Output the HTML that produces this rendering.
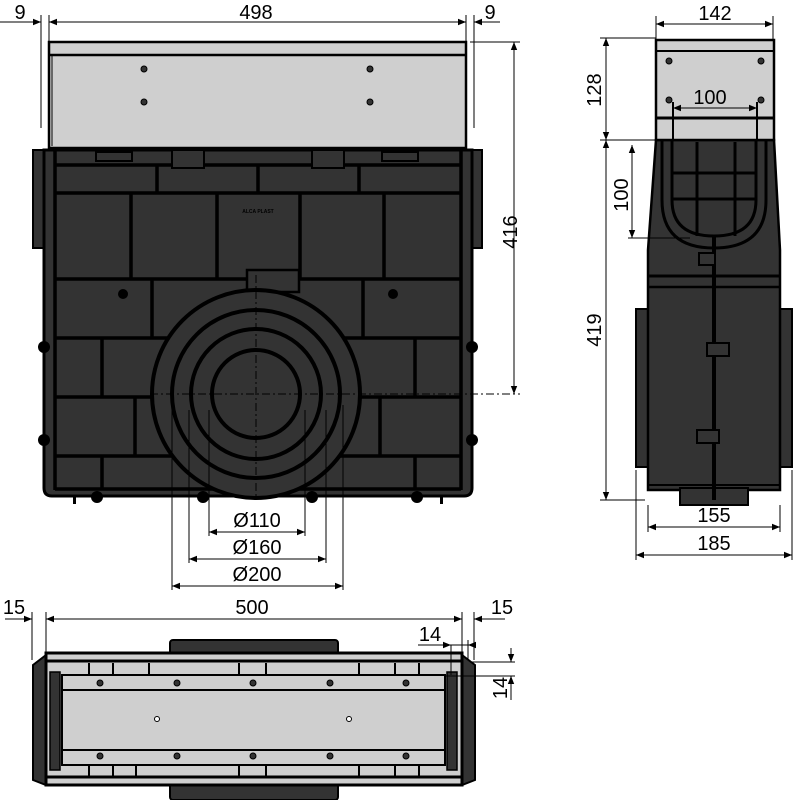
<!DOCTYPE html>
<html><head><meta charset="utf-8"><style>
html,body{margin:0;padding:0;background:#fff;}
svg{display:block;}
text{font-family:"Liberation Sans",sans-serif;font-size:20px;fill:#000;}
</style></head><body>
<svg width="800" height="800" viewBox="0 0 800 800" xmlns="http://www.w3.org/2000/svg">
<defs>
<marker id="a" viewBox="0 0 10 10" refX="10" refY="5" markerWidth="10" markerHeight="8" orient="auto-start-reverse" markerUnits="userSpaceOnUse"><path d="M0,1 L10,5 L0,9 z" fill="#000"/></marker>
</defs>
<g stroke="#000" stroke-width="1" fill="none">
<!-- ============ FRONT VIEW ============ -->
<rect x="33" y="150" width="14" height="98" fill="#333" stroke-width="2"/>
<rect x="468" y="150" width="14" height="98" fill="#333" stroke-width="2"/>
<path d="M44,150 H472 V488 Q472,496 464,496 H52 Q44,496 44,488 Z" fill="#333" stroke-width="3"/>
<g stroke-width="3.5">
<line x1="55" y1="150" x2="55" y2="490"/><line x1="461" y1="150" x2="461" y2="490"/>
<line x1="55" y1="165" x2="461" y2="165"/>
<line x1="55" y1="193" x2="461" y2="193"/>
<line x1="55" y1="279" x2="461" y2="279"/>
<line x1="55" y1="338" x2="461" y2="338"/>
<line x1="55" y1="397" x2="461" y2="397"/>
<line x1="55" y1="456" x2="461" y2="456"/>
<line x1="55" y1="489" x2="461" y2="489"/>
<line x1="157" y1="165" x2="157" y2="193"/><line x1="258" y1="165" x2="258" y2="193"/><line x1="359" y1="165" x2="359" y2="193"/>
<line x1="131" y1="193" x2="131" y2="279"/><line x1="217" y1="193" x2="217" y2="279"/><line x1="300" y1="193" x2="300" y2="279"/><line x1="384" y1="193" x2="384" y2="279"/>
<line x1="152" y1="279" x2="152" y2="338"/><line x1="363" y1="279" x2="363" y2="338"/>
<line x1="102" y1="338" x2="102" y2="397"/><line x1="415" y1="338" x2="415" y2="397"/>
<line x1="135" y1="397" x2="135" y2="456"/><line x1="380" y1="397" x2="380" y2="456"/>
<line x1="102" y1="456" x2="102" y2="489"/><line x1="415" y1="456" x2="415" y2="489"/>
</g>
<rect x="96" y="152" width="36" height="9" fill="#333" stroke-width="2"/>
<rect x="172" y="150" width="32" height="18" fill="#333" stroke-width="2"/>
<rect x="312" y="150" width="32" height="18" fill="#333" stroke-width="2"/>
<rect x="382" y="152" width="36" height="9" fill="#333" stroke-width="2"/>
<rect x="247" y="270" width="52" height="22" fill="#333" stroke-width="2.5"/>
<circle cx="256" cy="394" r="104" fill="#333" stroke-width="4"/>
<circle cx="256" cy="394" r="84" stroke-width="4"/>
<circle cx="256" cy="394" r="65" stroke-width="4"/>
<circle cx="256" cy="394" r="44" stroke-width="4"/>
<line x1="256" y1="275" x2="256" y2="500" stroke-dasharray="8,3,2,3"/>
<line x1="150" y1="394" x2="520" y2="394" stroke-dasharray="8,3,2,3"/>
<g fill="#000" stroke="none">
<circle cx="123" cy="294" r="5"/><circle cx="393" cy="294" r="5"/>
<circle cx="44" cy="347" r="6"/><circle cx="472" cy="347" r="6"/>
<circle cx="44" cy="440" r="6"/><circle cx="472" cy="440" r="6"/>
<circle cx="97" cy="497" r="6"/><circle cx="203" cy="497" r="6"/><circle cx="312" cy="497" r="6"/><circle cx="417" cy="497" r="6"/>
<rect x="73" y="496" width="3" height="8"/><rect x="440" y="496" width="3" height="8"/>
</g>
<rect x="49" y="42" width="417" height="106" fill="#cfcfcf" stroke-width="2.5"/>
<line x1="49" y1="55" x2="466" y2="55" stroke-width="2.5"/>
<line x1="52" y1="146" x2="52" y2="55" stroke-width="1"/>
<g fill="#333" stroke="#000"><circle cx="144" cy="69" r="3"/><circle cx="370" cy="69" r="3"/><circle cx="144" cy="102" r="3"/><circle cx="370" cy="102" r="3"/></g>
<line x1="172" y1="405" x2="172" y2="590"/><line x1="189" y1="410" x2="189" y2="563"/><line x1="209" y1="410" x2="209" y2="536"/>
<line x1="305" y1="410" x2="305" y2="536"/><line x1="326" y1="410" x2="326" y2="563"/><line x1="343" y1="405" x2="343" y2="590"/>
<line x1="209" y1="532" x2="305" y2="532" marker-start="url(#a)" marker-end="url(#a)"/>
<line x1="189" y1="559" x2="326" y2="559" marker-start="url(#a)" marker-end="url(#a)"/>
<line x1="172" y1="586" x2="343" y2="586" marker-start="url(#a)" marker-end="url(#a)"/>
<line x1="41" y1="15" x2="41" y2="128"/><line x1="49" y1="15" x2="49" y2="42"/>
<line x1="466" y1="15" x2="466" y2="42"/><line x1="474" y1="15" x2="474" y2="128"/>
<line x1="0" y1="22" x2="41" y2="22" marker-end="url(#a)"/>
<line x1="49" y1="22" x2="466" y2="22" marker-start="url(#a)" marker-end="url(#a)"/>
<line x1="500" y1="22" x2="474" y2="22" marker-end="url(#a)"/>
<line x1="470" y1="42" x2="520" y2="42"/>
<line x1="514" y1="42" x2="514" y2="394" marker-start="url(#a)" marker-end="url(#a)"/>

<!-- ============ SIDE VIEW ============ -->
<rect x="636" y="309" width="156" height="158" fill="#333" stroke-width="2"/>
<path d="M656,140 H774 L780,250 V490 H648 V250 Z" fill="#333" stroke-width="2.5"/>
<rect x="680" y="488" width="68" height="17" fill="#333" stroke-width="2"/>
<line x1="648" y1="276" x2="780" y2="276" stroke-width="3"/>
<line x1="648" y1="287" x2="780" y2="287" stroke-width="2.5"/>
<line x1="648" y1="485" x2="780" y2="485" stroke-width="2"/>
<line x1="648" y1="309" x2="648" y2="485" stroke-width="2"/><line x1="780" y1="309" x2="780" y2="485" stroke-width="2"/>
<path d="M662,140 V200 Q662,248 714,248 Q766,248 766,200 V140" stroke-width="3"/>
<path d="M672,140 V200 Q672,236 714,236 Q756,236 756,200 V140" stroke-width="3"/>
<g stroke-width="3"><line x1="697" y1="142" x2="697" y2="236"/><line x1="735" y1="142" x2="735" y2="236"/>
<line x1="672" y1="173" x2="756" y2="173"/><line x1="672" y1="199" x2="756" y2="199"/></g>
<line x1="714" y1="236" x2="714" y2="500" stroke-width="4"/>
<g stroke-width="2"><rect x="699" y="253" width="16" height="12" fill="#333"/><rect x="707" y="343" width="22" height="13" fill="#333"/><rect x="697" y="430" width="22" height="13" fill="#333"/></g>
<rect x="656" y="40" width="118" height="100" fill="#cfcfcf" stroke-width="2.5"/>
<line x1="656" y1="51" x2="774" y2="51" stroke-width="2"/>
<line x1="656" y1="118" x2="774" y2="118" stroke-width="3"/>
<g fill="#333"><circle cx="669" cy="61" r="3"/><circle cx="761" cy="61" r="3"/><circle cx="669" cy="100" r="3"/><circle cx="761" cy="100" r="3"/></g>
<line x1="673" y1="102" x2="673" y2="140" stroke-width="2"/><line x1="757" y1="102" x2="757" y2="140" stroke-width="2"/>
<line x1="656" y1="16" x2="656" y2="40"/><line x1="773" y1="16" x2="773" y2="40"/>
<line x1="656" y1="24" x2="773" y2="24" marker-start="url(#a)" marker-end="url(#a)"/>
<line x1="600" y1="38" x2="656" y2="38"/><line x1="600" y1="140" x2="656" y2="140"/>
<line x1="606" y1="38" x2="606" y2="140" marker-start="url(#a)" marker-end="url(#a)"/>
<line x1="606" y1="140" x2="606" y2="500" marker-start="url(#a)" marker-end="url(#a)"/>
<line x1="600" y1="500" x2="645" y2="500"/>
<line x1="632" y1="145" x2="632" y2="238" marker-start="url(#a)" marker-end="url(#a)"/>
<line x1="628" y1="238" x2="690" y2="238"/>
<line x1="673" y1="108" x2="757" y2="108" marker-start="url(#a)" marker-end="url(#a)"/>
<line x1="648" y1="505" x2="648" y2="532"/><line x1="780" y1="505" x2="780" y2="532"/>
<line x1="648" y1="527" x2="780" y2="527" marker-start="url(#a)" marker-end="url(#a)"/>
<line x1="636" y1="470" x2="636" y2="560"/><line x1="792" y1="470" x2="792" y2="560"/>
<line x1="636" y1="555" x2="792" y2="555" marker-start="url(#a)" marker-end="url(#a)"/>

<!-- ============ TOP VIEW ============ -->
<rect x="170" y="640" width="168" height="160" rx="3" fill="#333" stroke-width="2"/>
<path d="M33,665 L46,655 V785 L33,780 Z" fill="#333" stroke-width="2"/>
<path d="M475,665 L462,655 V785 L475,780 Z" fill="#333" stroke-width="2"/>
<rect x="46" y="653" width="416" height="132" fill="#cfcfcf" stroke-width="3"/>
<line x1="46" y1="661" x2="462" y2="661" stroke-width="3"/>
<line x1="46" y1="777" x2="462" y2="777" stroke-width="3"/>
<rect x="50" y="672" width="10" height="98" fill="#333" stroke-width="1.5"/>
<rect x="447" y="672" width="10" height="98" fill="#333" stroke-width="1.5"/>
<g stroke-width="2">
<line x1="89" y1="663" x2="89" y2="675"/><line x1="113" y1="663" x2="113" y2="675"/><line x1="149" y1="663" x2="149" y2="675"/>
<line x1="239" y1="663" x2="239" y2="675"/><line x1="266" y1="663" x2="266" y2="675"/><line x1="359" y1="663" x2="359" y2="675"/>
<line x1="395" y1="663" x2="395" y2="675"/><line x1="419" y1="663" x2="419" y2="675"/>
<line x1="89" y1="765" x2="89" y2="777"/><line x1="113" y1="765" x2="113" y2="777"/><line x1="136" y1="765" x2="136" y2="777"/>
<line x1="239" y1="765" x2="239" y2="777"/><line x1="266" y1="765" x2="266" y2="777"/><line x1="359" y1="765" x2="359" y2="777"/>
<line x1="395" y1="765" x2="395" y2="777"/><line x1="419" y1="765" x2="419" y2="777"/>
</g>
<rect x="62" y="675" width="383" height="90" fill="#cfcfcf" stroke-width="2"/>
<line x1="62" y1="690" x2="445" y2="690" stroke-width="2"/>
<line x1="62" y1="750" x2="445" y2="750" stroke-width="2"/>
<g fill="#333">
<circle cx="100" cy="683" r="3"/><circle cx="177" cy="683" r="3"/><circle cx="253" cy="683" r="3"/><circle cx="330" cy="683" r="3"/><circle cx="406" cy="683" r="3"/>
<circle cx="100" cy="756" r="3"/><circle cx="177" cy="756" r="3"/><circle cx="253" cy="756" r="3"/><circle cx="330" cy="756" r="3"/><circle cx="406" cy="756" r="3"/>
</g>
<circle cx="157" cy="719" r="2.5" fill="#fff"/><circle cx="349" cy="719" r="2.5" fill="#fff"/>
<line x1="32" y1="612" x2="32" y2="660"/><line x1="46" y1="612" x2="46" y2="653"/>
<line x1="462" y1="612" x2="462" y2="653"/><line x1="474" y1="612" x2="474" y2="660"/>
<line x1="5" y1="619" x2="32" y2="619" marker-end="url(#a)"/>
<line x1="46" y1="619" x2="462" y2="619" marker-start="url(#a)" marker-end="url(#a)"/>
<line x1="505" y1="619" x2="474" y2="619" marker-end="url(#a)"/>
<line x1="418" y1="645" x2="451" y2="645" marker-end="url(#a)"/>
<line x1="451" y1="645" x2="468" y2="645"/>
<line x1="475" y1="645" x2="468" y2="645" marker-end="url(#a)"/>
<line x1="451" y1="645" x2="451" y2="675"/><line x1="468" y1="640" x2="468" y2="660"/>
<line x1="470" y1="662" x2="515" y2="662"/><line x1="445" y1="676" x2="515" y2="676"/>
<line x1="511" y1="648" x2="511" y2="662" marker-end="url(#a)"/>
<line x1="511" y1="700" x2="511" y2="676" marker-end="url(#a)"/>
</g>
<text x="20" y="19" text-anchor="middle">9</text>
<text x="256" y="19" text-anchor="middle">498</text>
<text x="490" y="19" text-anchor="middle">9</text>
<text transform="translate(517,232) rotate(-90)" text-anchor="middle">416</text>
<text x="257" y="527" text-anchor="middle">Ø110</text>
<text x="257" y="554" text-anchor="middle">Ø160</text>
<text x="257" y="581" text-anchor="middle">Ø200</text>
<text x="715" y="20" text-anchor="middle">142</text>
<text transform="translate(601,90) rotate(-90)" text-anchor="middle">128</text>
<text transform="translate(601,330) rotate(-90)" text-anchor="middle">419</text>
<text transform="translate(628,195) rotate(-90)" text-anchor="middle">100</text>
<text x="710" y="104" text-anchor="middle">100</text>
<text x="714" y="522" text-anchor="middle">155</text>
<text x="714" y="550" text-anchor="middle">185</text>
<text x="14" y="614" text-anchor="middle">15</text>
<text x="252" y="614" text-anchor="middle">500</text>
<text x="502" y="614" text-anchor="middle">15</text>
<text x="430" y="641" text-anchor="middle">14</text>
<text transform="translate(507,688) rotate(-90)" text-anchor="middle">14</text>
<text x="258" y="213" text-anchor="middle" style="font-size:5px;font-weight:bold">ALCA PLAST</text>
</svg>
</body></html>
